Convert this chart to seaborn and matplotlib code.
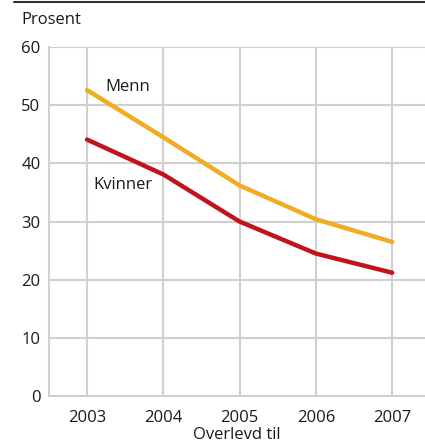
import pandas as pd
import matplotlib.pyplot as plt
import seaborn as sns
from matplotlib.lines import Line2D

years = [2003, 2004, 2005, 2006, 2007]
menn = [52.6, 44.5, 36.2, 30.4, 26.5]
kvinner = [44.1, 38.1, 30.0, 24.5, 21.2]

df = pd.DataFrame({
    "År": years * 2,
    "Prosent": menn + kvinner,
    "Kjønn": ["Menn"] * 5 + ["Kvinner"] * 5,
})

sns.set_style("white")
plt.rcParams["font.family"] = ["Open Sans", "DejaVu Sans"]

fig = plt.figure(figsize=(4.25, 4.44), dpi=100)
ax = fig.add_axes([0.115, 0.108, 0.885, 0.786])

grid = "#d0d0d0"
sns.lineplot(data=df, x="År", y="Prosent", hue="Kjønn",
             palette={"Menn": "#f0ac22", "Kvinner": "#c0131c"},
             linewidth=3.2, legend=False, ax=ax, zorder=3)

ax.set_xlim(2002.5, 2007.43)
ax.set_ylim(0, 60)
ax.set_xticks(years)
ax.set_yticks(range(0, 61, 10))
ax.grid(True, color=grid, linewidth=1.5)
for side in ["top", "right"]:
    ax.spines[side].set_visible(False)
ax.spines["left"].set_color(grid)
ax.spines["left"].set_linewidth(1.5)
ax.spines["bottom"].set_color(grid)
ax.spines["bottom"].set_linewidth(1.5)
ax.tick_params(axis="y", length=0, labelsize=12, colors="#1a1a1a", pad=6)
ax.tick_params(axis="x", length=0, labelsize=12, colors="#1a1a1a", pad=10)

ax.set_xlabel("Overlevd til", fontsize=12, color="#1a1a1a", labelpad=1)
ax.set_ylabel("")

ax.text(2003.24, 53.2, "Menn", fontsize=12, color="#1a1a1a", va="center")
ax.text(2003.08, 36.3, "Kvinner", fontsize=12, color="#1a1a1a", va="center")

fig.text(0.05, 1 - 20 / 444, "Prosent", fontsize=12, color="#1a1a1a", va="center")
fig.add_artist(Line2D([14 / 425, 1], [1 - 2.5 / 444] * 2, color="#333333", linewidth=1.5))

fig.savefig("out.png", dpi=100)
